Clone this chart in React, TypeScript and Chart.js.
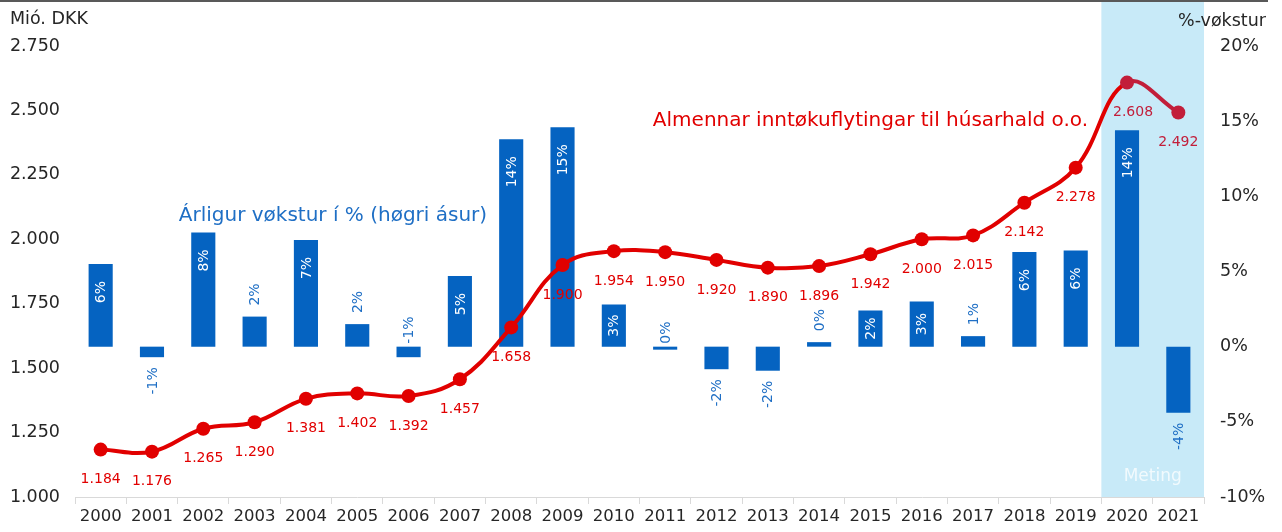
import React, { useEffect, useRef } from "react";
import { Chart, registerables } from "chart.js";

Chart.register(...registerables);

const years = [
  "2000", "2001", "2002", "2003", "2004", "2005", "2006", "2007", "2008", "2009", "2010",
  "2011", "2012", "2013", "2014", "2015", "2016", "2017", "2018", "2019", "2020", "2021",
];
// Mió. DKK
const incomeTransfers = [
  1184, 1176, 1265, 1290, 1381, 1402, 1392, 1457, 1658, 1900, 1954,
  1950, 1920, 1890, 1896, 1942, 2000, 2015, 2142, 2278, 2608, 2492,
];
// %-vøkstur
const growthPct = [
  5.5, -0.7, 7.6, 2.0, 7.1, 1.5, -0.7, 4.7, 13.8, 14.6, 2.8,
  -0.2, -1.5, -1.6, 0.3, 2.4, 3.0, 0.7, 6.3, 6.4, 14.4, -4.4,
];
const growthLabels = [
  "6%", "-1%", "8%", "2%", "7%", "2%", "-1%", "5%", "14%", "15%", "3%",
  "0%", "-2%", "-2%", "0%", "2%", "3%", "1%", "6%", "6%", "14%", "-4%",
];
const forecastYears = ["2020", "2021"];
const labelAboveZeroYears = ["2006", "2011"];

const leftTicks = { min: 1000, max: 2750, step: 250 };
const rightTicks = { min: -10, max: 20, step: 5 };

const lineTitle = "Almennar inntøkuflytingar til húsarhald o.o.";
const barTitle = "Árligur vøkstur í % (høgri ásur)";
const leftUnit = "Mió. DKK";
const rightUnit = "%-vøkstur";
const forecastText = "Meting";

const FONT = "DejaVu Sans";
const RED = "#E10000";
const CRIMSON = "#C21E3A";
const BLUE = "#0563C1";
const BLUE_TEXT = "#1F6FC5";
const SHADE = "#C8EAF8";
const TEXT = "#262626";

const fmtThousands = (v: number) =>
  Math.round(v).toString().replace(/\B(?=(\d{3})+(?!\d))/g, ".");

const isForecast = (i: number) => forecastYears.includes(years[i]);

const decorPlugin = {
  id: "decor",
  beforeDraw(chart: any) {
    const { ctx, chartArea, scales } = chart;
    const x = scales.x;
    const half = (x.getPixelForValue(1) - x.getPixelForValue(0)) / 2;
    const i0 = years.indexOf(forecastYears[0]);
    const i1 = years.indexOf(forecastYears[forecastYears.length - 1]);
    const x0 = x.getPixelForValue(i0) - half;
    const x1 = x.getPixelForValue(i1) + half;
    ctx.save();
    ctx.fillStyle = SHADE;
    ctx.fillRect(x0, 2, x1 - x0, chartArea.bottom - 2);
    ctx.fillStyle = "rgba(255,255,255,0.75)";
    ctx.font = `17px "${FONT}"`;
    ctx.textAlign = "center";
    ctx.textBaseline = "middle";
    ctx.fillText(forecastText, (x0 + x1) / 2, chartArea.bottom - 20);
    // top rule
    ctx.fillStyle = "#595959";
    ctx.fillRect(0, 0, 1268, 2);
    // unit labels
    ctx.fillStyle = TEXT;
    ctx.font = `17.5px "${FONT}"`;
    ctx.textAlign = "left";
    ctx.fillText(leftUnit, 10, 19);
    ctx.textAlign = "right";
    ctx.fillText(rightUnit, 1266, 21);
    ctx.restore();
  },
  afterDatasetsDraw(chart: any) {
    const { ctx, scales } = chart;
    const x = scales.x;
    const yL = scales.yL;
    ctx.save();
    // series annotations
    ctx.font = `20px "${FONT}"`;
    ctx.textBaseline = "middle";
    ctx.textAlign = "center";
    ctx.fillStyle = RED;
    ctx.fillText(lineTitle, x.getPixelForValue(15), yL.getPixelForValue(2460));
    ctx.fillStyle = BLUE_TEXT;
    ctx.fillText(barTitle, x.getPixelForValue(4) + 27, yL.getPixelForValue(2090));

    // bar labels
    const barMeta = chart.getDatasetMeta(1);
    ctx.font = `14px "${FONT}"`;
    barMeta.data.forEach((el: any, i: number) => {
      const v = growthPct[i];
      const txt = growthLabels[i];
      const w = ctx.measureText(txt).width;
      const top = Math.min(el.y, el.base);
      const bottom = Math.max(el.y, el.base);
      const h = bottom - top;
      let y: number;
      let align: CanvasTextAlign;
      let color = BLUE_TEXT;
      if (labelAboveZeroYears.includes(years[i])) {
        y = top - 3;
        align = "left";
      } else if (v >= 0 && h >= w + 10) {
        y = top + Math.min(17, (h - w) / 2);
        align = "right";
        color = "#FFFFFF";
      } else if (v >= 0) {
        y = top - 11;
        align = "left";
      } else {
        y = bottom + 10;
        align = "right";
      }
      ctx.save();
      ctx.translate(el.x, y);
      ctx.rotate(-Math.PI / 2);
      ctx.textAlign = align;
      ctx.textBaseline = "middle";
      ctx.fillStyle = color;
      ctx.fillText(txt, 0, 1);
      ctx.restore();
    });

    // line labels
    const lineMeta = chart.getDatasetMeta(0);
    ctx.textAlign = "center";
    ctx.textBaseline = "middle";
    lineMeta.data.forEach((pt: any, i: number) => {
      ctx.fillStyle = isForecast(i) ? CRIMSON : RED;
      ctx.fillText(fmtThousands(incomeTransfers[i]), pt.x + (i === 20 ? 6 : 0), pt.y + 30);
    });
    ctx.restore();
  },
};

export default function App() {
  const ref = useRef<HTMLCanvasElement | null>(null);
  useEffect(() => {
    if (!ref.current) return;
    const pointColors = years.map((_, i) => (isForecast(i) ? CRIMSON : RED));
    const chart = new Chart(ref.current, {
      data: {
        labels: years,
        datasets: [
          {
            type: "line",
            label: lineTitle,
            data: incomeTransfers,
            yAxisID: "yL",
            borderColor: RED,
            borderWidth: 4,
            tension: 0.4,
            pointRadius: 7,
            pointBorderWidth: 0,
            pointBackgroundColor: pointColors,
            pointBorderColor: pointColors,
            segment: {
              borderColor: (c: any) => (isForecast(c.p0DataIndex) ? CRIMSON : RED),
            },
            order: 0,
          } as any,
          {
            type: "bar",
            label: barTitle,
            data: growthPct,
            yAxisID: "yR",
            backgroundColor: BLUE,
            barPercentage: 0.47,
            categoryPercentage: 1,
            order: 1,
          } as any,
        ],
      },
      options: {
        responsive: false,
        animation: false,
        layout: { padding: { top: 46, left: 0, right: 0, bottom: 0 } },
        plugins: { legend: { display: false }, tooltip: { enabled: false } },
        scales: {
          x: {
            grid: {
              display: true,
              drawOnChartArea: false,
              offset: true,
              tickLength: 7,
              color: "#D9D9D9",
            },
            border: { color: "#D9D9D9" },
            ticks: {
              font: { family: FONT, size: 16.5 },
              color: TEXT,
              padding: 3,
              maxRotation: 0,
              autoSkip: false,
            },
            afterFit: (s: any) => {
              s.height = 35;
            },
          },
          yL: {
            position: "left",
            min: leftTicks.min,
            max: leftTicks.max,
            grid: { display: false, drawTicks: false },
            border: { display: false },
            ticks: {
              stepSize: leftTicks.step,
              callback: (v: any) => fmtThousands(Number(v)),
              font: { family: FONT, size: 17.5 },
              color: TEXT,
              padding: 15,
            },
            afterFit: (s: any) => {
              s.width = 75;
            },
          },
          yR: {
            position: "right",
            min: rightTicks.min,
            max: rightTicks.max,
            grid: { display: false, drawTicks: false },
            border: { display: false },
            ticks: {
              stepSize: rightTicks.step,
              callback: (v: any) => `${v}%`,
              font: { family: FONT, size: 17.5 },
              color: TEXT,
              padding: 16,
            },
            afterFit: (s: any) => {
              s.width = 78;
            },
          },
        },
      },
      plugins: [decorPlugin],
    });
    return () => chart.destroy();
  }, []);
  return (
    <div style={{ position: "absolute", left: 0, top: 0, width: 1282, height: 532, background: "#fff" }}>
      <canvas ref={ref} width={1282} height={532} />
    </div>
  );
}
